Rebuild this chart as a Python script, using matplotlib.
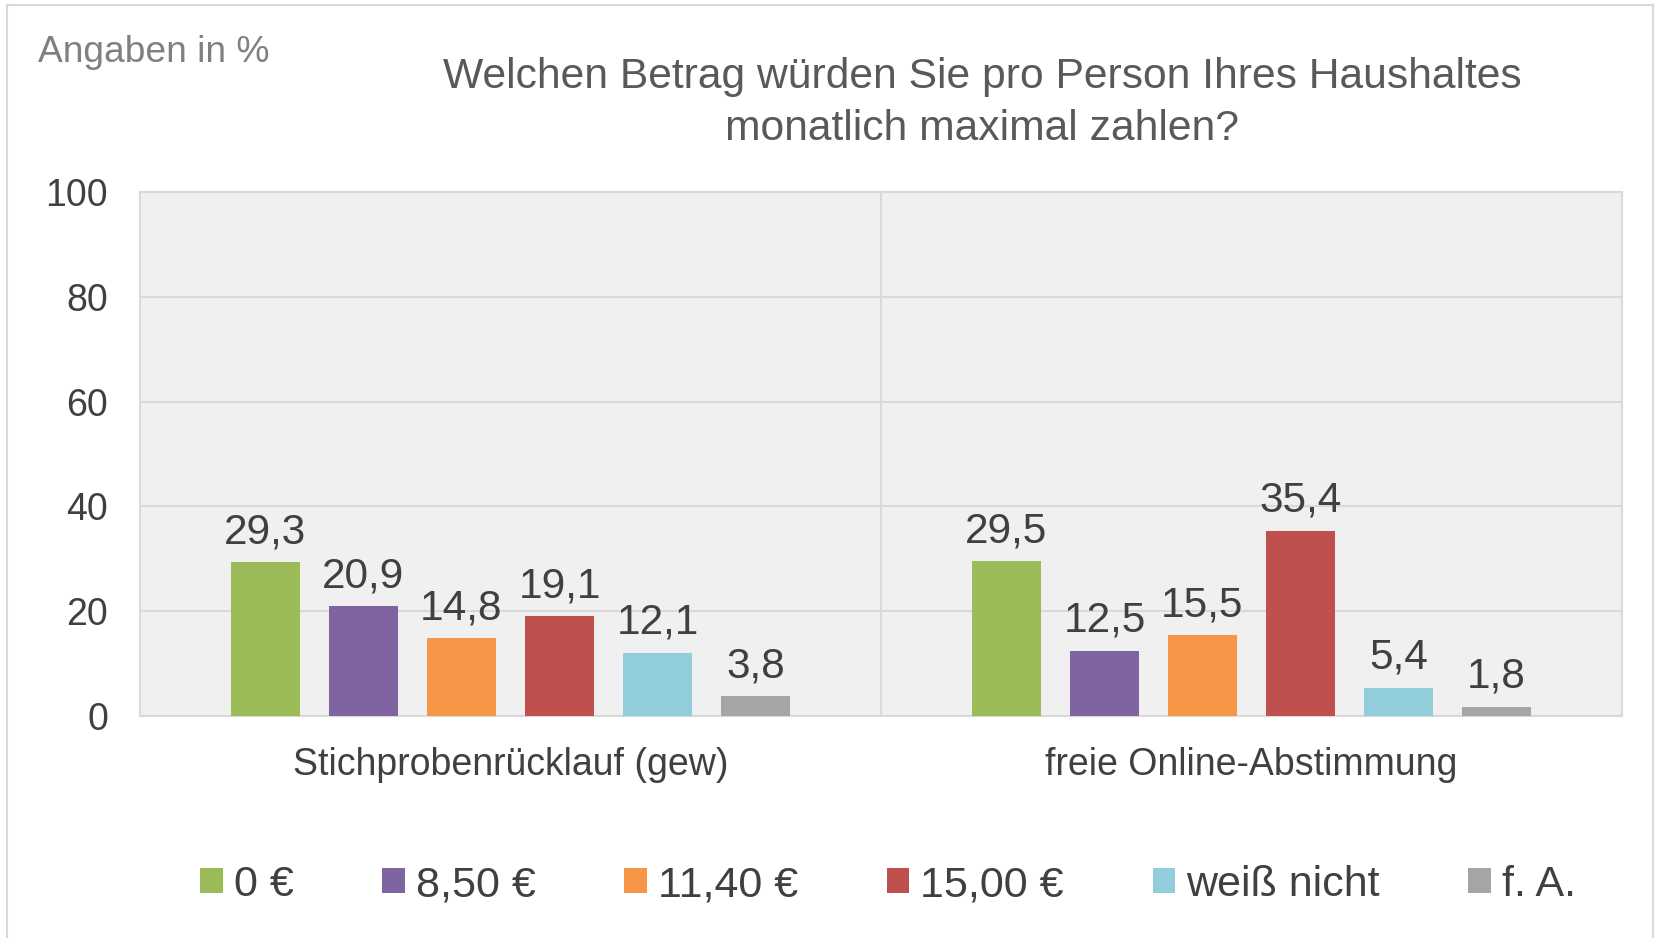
import numpy as np
import matplotlib
matplotlib.use("Agg")
import matplotlib.pyplot as plt
from matplotlib.patches import Patch
from matplotlib.lines import Line2D

plt.rcParams['font.family'] = ['Liberation Sans', 'DejaVu Sans']

# data
groups = ["Stichprobenrücklauf (gew)", "freie Online-Abstimmung"]
series = ["0 €", "8,50 €", "11,40 €", "15,00 €", "weiß nicht", "f. A."]
values = [
    [29.3, 29.5],
    [20.9, 12.5],
    [14.8, 15.5],
    [19.1, 35.4],
    [12.1, 5.4],
    [3.8, 1.8],
]
colors = ["#9BBB59", "#8064A2", "#F79646", "#C0504D", "#92CDDC", "#A5A5A5"]
yticks = [0, 20, 40, 60, 80, 100]

fig = plt.figure(figsize=(16.55, 9.38), dpi=100)
ax = fig.add_axes([140 / 1655, 1 - 716 / 938, 1482 / 1655, 524 / 938])
ax.set_facecolor("#F0F0F0")

x = np.arange(len(groups))
step = 0.1323
width = 0.092
for i, (name, vals) in enumerate(zip(series, values)):
    pos = x + (i - 2.5) * step
    bars = ax.bar(pos, vals, width, color=colors[i], label=name, zorder=3)
    labels = [f"{v:.1f}".replace(".", ",") for v in vals]
    ax.bar_label(bars, labels=labels, padding=7, fontsize=30.5, color="#404040")

ax.set_xlim(-0.5, 1.5)
ax.set_ylim(0, 100)
ax.set_yticks(yticks)
ax.set_yticklabels([str(t) for t in yticks], fontsize=27, color="#404040")
ax.set_xticks(x)
ax.set_xticklabels(groups, fontsize=27, color="#404040")
ax.tick_params(axis="both", length=0)
ax.tick_params(axis="y", pad=23)
ax.tick_params(axis="x", pad=22)
ax.yaxis.grid(True, color="#D9D9D9", linewidth=1.5, zorder=0)
ax.axvline(0.5, color="#D9D9D9", linewidth=1.5, zorder=1)
for s in ax.spines.values():
    s.set_color("#D9D9D9")
    s.set_linewidth(1.5)

# title and unit note
fig.text(982 / 1655, 1 - 103 / 938,
         "Welchen Betrag würden Sie pro Person Ihres Haushaltes\nmonatlich maximal zahlen?",
         ha="center", va="center", fontsize=30.7, color="#595959", linespacing=1.36)
fig.text(38 / 1655, 1 - 53 / 938, "Angaben in %", ha="left", va="center",
         fontsize=26.7, color="#808080")

# legend
handles = [Patch(facecolor=c, edgecolor="none") for c in colors]
fig.legend(handles, series, loc="center", bbox_to_anchor=(888 / 1655, 1 - 885 / 938),
           ncol=6, frameon=False, fontsize=31, labelcolor="#404040",
           handlelength=0.52, handleheight=0.52, handletextpad=0.25,
           columnspacing=2.07)

# outer frame of the chart
fig.add_artist(Line2D([7 / 1655, 7 / 1655], [0, 1 - 5 / 938], color="#D9D9D9", lw=1.5))
fig.add_artist(Line2D([7 / 1655, 1653 / 1655], [1 - 5 / 938, 1 - 5 / 938], color="#D9D9D9", lw=1.5))
fig.add_artist(Line2D([1653 / 1655, 1653 / 1655], [0, 1 - 5 / 938], color="#D9D9D9", lw=1.5))

fig.savefig("out.png", dpi=100)
